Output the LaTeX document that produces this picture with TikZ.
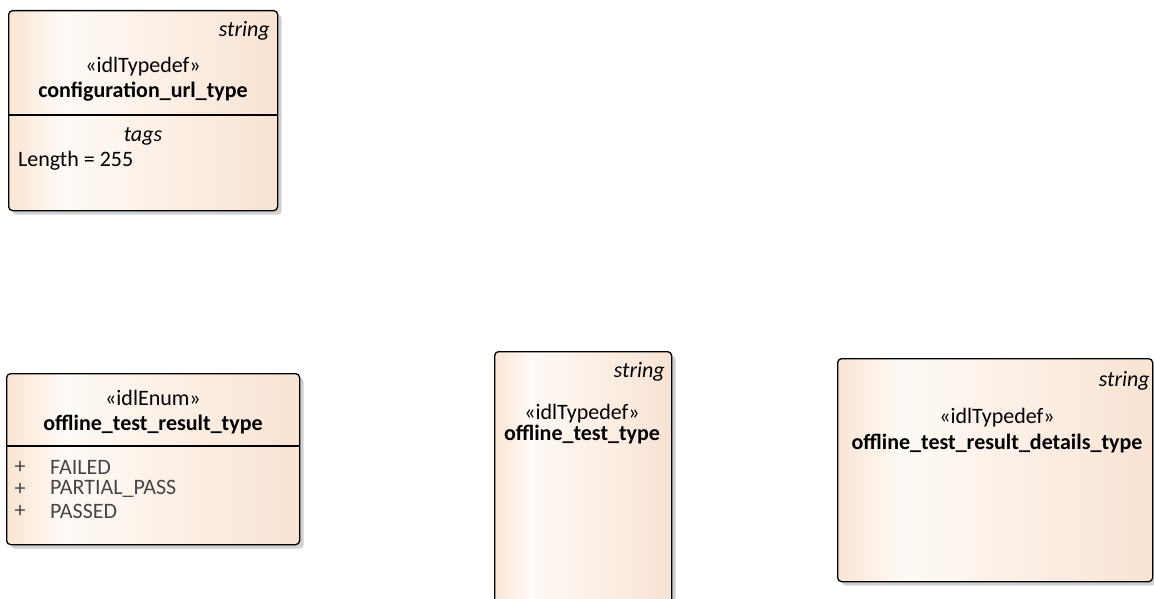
\documentclass[tikz,border=0pt]{standalone}
\usepackage{fontspec}
\setmainfont{Carlito}
\usetikzlibrary{shadows, positioning}
\definecolor{peachL}{RGB}{250,229,212}
\definecolor{peachM}{RGB}{254,250,246}
\definecolor{peachR}{RGB}{249,227,211}
\definecolor{itemgrey}{RGB}{70,70,70}
\pgfdeclarehorizontalshading{umlfill}{100bp}{color(0bp)=(peachL); color(25bp)=(peachL); color(35bp)=(peachM); color(75bp)=(peachR); color(100bp)=(peachR)}

\begin{document}
\begin{tikzpicture}[x=1pt, y=-1pt,
    umlbox/.style={draw, line width=1.3pt, rounded corners=4pt, shading=umlfill,
      general shadow={fill=black!18, shadow xshift=4pt, shadow yshift=-4pt},
      inner sep=0pt, anchor=north west},
    txt/.style={font=\fontsize{22}{26}\selectfont, inner sep=0pt},
    bold/.style={txt, font=\fontsize{22}{26}\selectfont\bfseries},
    ital/.style={txt, font=\fontsize{22}{26}\selectfont\itshape},
    item/.style={txt, text=itemgrey, anchor=west},
    divider/.style={line width=1.3pt}]
  \useasboundingbox (0,0) rectangle (1154,599);

  % configuration_url_type
  \node[umlbox, minimum width=269pt, minimum height=200pt] (cfg) at (8,10) {};
  \draw[divider] (cfg.west |- 0,115) -- (cfg.east |- 0,115);
  \node[ital, anchor=east] (cfgkind) at (270,31) {string};
  \node[txt] (cfgster) at (143,67) {«idlTypedef»};
  \node[bold] (cfgname) at (143,92) {configuration\_url\_type};
  \node[ital] (cfgtags) at (143,136) {tags};
  \node[txt, anchor=west] (cfglen) at (18,161) {Length = 255};

  % offline_test_result_type
  \node[umlbox, minimum width=293pt, minimum height=171pt] (res) at (6,373) {};
  \draw[divider] (res.west |- 0,446) -- (res.east |- 0,446);
  \node[txt] (resster) at (153,398) {«idlEnum»};
  \node[bold] (resname) at (153,425) {offline\_test\_result\_type};
  \foreach \lit [count=\i] in {FAILED, PARTIAL\_PASS, PASSED} {
    \node[item, anchor=center] (resplus\i) at (20,445+22*\i) {+};
    \node[item] (reslit\i) at (50,445+22*\i) {\lit};
  }

  % offline_test_type
  \node[umlbox, minimum width=177pt, minimum height=280pt] (tst) at (494,351) {};
  \node[ital, anchor=east] (tstkind) at (665,372) {string};
  \node[txt] (tstster) at (582,414) {«idlTypedef»};
  \node[bold] (tstname) at (582,435) {offline\_test\_type};

  % offline_test_result_details_type
  \node[umlbox, minimum width=315pt, minimum height=223pt] (det) at (837,358) {};
  \node[ital, anchor=east] (detkind) at (1150,381) {string};
  \node[txt] (detster) at (997,418) {«idlTypedef»};
  \node[bold] (detname) at (997,444) {offline\_test\_result\_details\_type};
\end{tikzpicture}
\end{document}
